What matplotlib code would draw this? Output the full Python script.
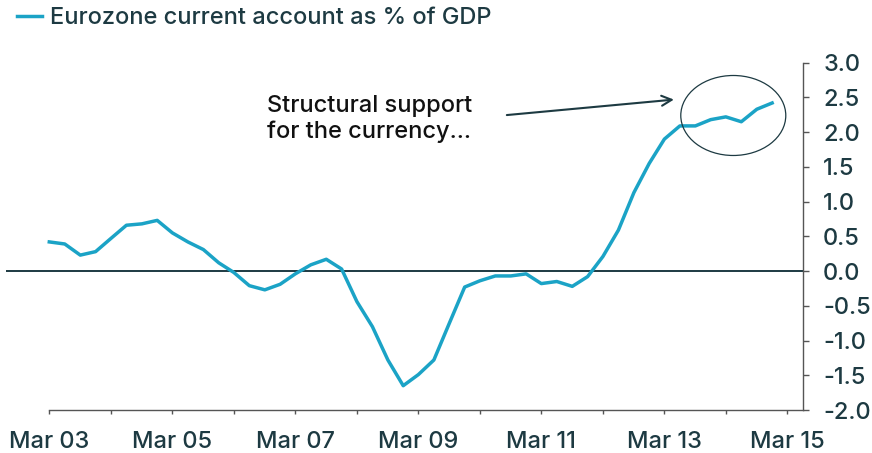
import matplotlib
matplotlib.use("Agg")
import matplotlib.pyplot as plt
import matplotlib.dates as mdates
from matplotlib.patches import Ellipse
import pandas as pd

plt.rcParams['font.family'] = ['Inter', 'DejaVu Sans']
plt.rcParams['font.weight'] = 'medium'

# Quarterly eurozone current account balance, % of GDP (Mar 2003 - Dec 2014)
quarters = pd.date_range("2003-03-01", periods=48, freq="3MS")
current_account = [
    0.42, 0.39, 0.23, 0.28, 0.47, 0.66, 0.68, 0.73,
    0.55, 0.42, 0.31, 0.12, -0.02, -0.21, -0.27, -0.19,
    -0.04, 0.09, 0.17, 0.03, -0.44, -0.80, -1.28, -1.65,
    -1.49, -1.28, -0.75, -0.23, -0.14, -0.07, -0.07, -0.04,
    -0.18, -0.15, -0.22, -0.08, 0.21, 0.59, 1.13, 1.55,
    1.90, 2.09, 2.09, 2.18, 2.22, 2.15, 2.33, 2.42,
]
series_label = "Eurozone current account as % of GDP"
y_ticks = [3.0, 2.5, 2.0, 1.5, 1.0, 0.5, 0.0, -0.5, -1.0, -1.5, -2.0]
note_text = "Structural support\nfor the currency..."

LINE = "#1ba3c6"
DARK = "#1d3a42"
FS = 17

fig = plt.figure(figsize=(8.72, 4.53), dpi=100)
ax = fig.add_axes([0.0069, 0.0949, 0.9143, 0.7667])

ax.plot(quarters, current_account, color=LINE, lw=2.5, solid_joinstyle="round",
        label=series_label, zorder=3)
ax.axhline(0, color=DARK, lw=1.4, zorder=2)

x_left = pd.Timestamp("2003-03-01") - pd.Timedelta(days=257)
x_right = pd.Timestamp("2015-03-01") + pd.Timedelta(days=95)
ax.set_xlim(x_left, x_right)
ax.set_ylim(-2.0, 3.0)

# x axis: yearly ticks, labels every second March
year_ticks = pd.date_range("2003-03-01", "2015-03-01", freq="12MS")
ax.set_xticks(year_ticks)
ax.set_xticklabels([d.strftime("Mar %y") if (d.year - 2003) % 2 == 0 else ""
                    for d in year_ticks])
ax.tick_params(axis="x", direction="out", length=3.2, width=1, color="#555555",
               labelsize=FS, labelcolor=DARK, pad=12)

# y axis on the right, plain hyphen for negatives
ax.yaxis.tick_right()
ax.set_yticks(y_ticks)
ax.set_yticklabels([f"{v:.1f}".replace("\u2212", "-") for v in y_ticks])
ax.tick_params(axis="y", direction="out", length=4.3, width=1, color="#555555",
               labelsize=FS, labelcolor=DARK, pad=10)

for side in ("left", "top"):
    ax.spines[side].set_visible(False)
for side in ("right", "bottom"):
    ax.spines[side].set_color("#555555")
    ax.spines[side].set_linewidth(1)
ax.spines["bottom"].set_bounds(mdates.date2num(pd.Timestamp("2003-03-01")),
                               mdates.date2num(x_right))

# annotation: circle around the recent surplus plateau and arrow pointing to it
ax.add_patch(Ellipse((0.9122, 0.8480), width=0.1317, height=0.2303,
                     transform=ax.transAxes, fill=False, edgecolor=DARK,
                     lw=0.9, zorder=4))
ax.annotate("", xy=(0.8412, 0.8945), xytext=(0.6247, 0.8485),
            xycoords="axes fraction", textcoords="axes fraction",
            arrowprops=dict(arrowstyle="->", color=DARK, lw=1.5,
                            mutation_scale=18))
ax.text(0.3275, 0.8378, note_text, transform=ax.transAxes, ha="left",
        va="center", fontsize=FS, color="#111111", linespacing=1.2)

fig.legend(loc="upper left", bbox_to_anchor=(0.020, 0.985), frameon=False,
           fontsize=FS, handlelength=1.05, handletextpad=0.33,
           borderpad=0, borderaxespad=0, labelcolor=DARK)

fig.savefig("out.png", dpi=100)
